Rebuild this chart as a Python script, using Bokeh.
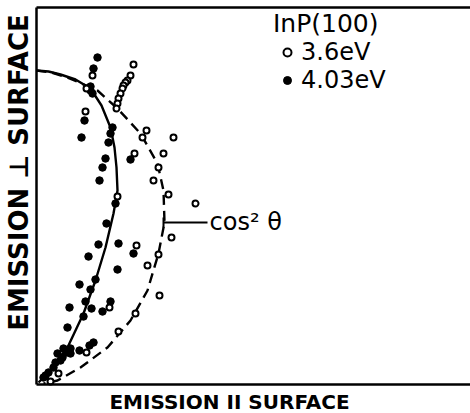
import math
from bokeh.plotting import figure
from bokeh.models import (Range1d, LinearAxis, FixedTicker, Label, Legend, LegendItem)
from bokeh.embed import file_html
from bokeh.resources import INLINE

# emission intensities (arbitrary units): x = parallel to surface, y = perpendicular
open_x = [97, 94, 91, 89, 87, 86, 84, 82, 81, 80, 56, 50, 49, 110, 106, 137, 98, 127, 122, 117,
          132, 81, 159, 135, 100, 122, 111, 123, 73, 99, 82, 50, 22, 14]
open_y = [320, 309, 304, 302, 299, 296, 291, 286, 281, 276, 309, 296, 273, 254, 247, 247, 231, 231, 217, 204,
          190, 188, 181, 147, 139, 130, 119, 89, 77, 71, 53, 32, 11, 3]

filled_x = [61, 57, 54, 52, 56, 54, 48, 45, 76, 74, 72, 69, 66, 63, 94, 79, 70, 62, 82, 52, 97, 81,
            43, 59, 54, 49, 74, 66, 33, 55, 47, 31, 57, 53, 43, 34, 27, 21, 26, 19, 17, 12, 7, 34, 30, 24, 9]
filled_y = [327, 316, 298, 296, 291, 294, 264, 247, 257, 251, 242, 226, 217, 204, 225, 181, 161, 140, 141, 128, 131, 115,
            100, 105, 95, 83, 83, 73, 77, 76, 68, 57, 42, 39, 34, 36, 36, 31, 27, 22, 17, 12, 7, 31, 32, 24, 9]

# fitted curve (solid)
solid_x = [0, 12, 24, 39, 54, 65, 74, 78, 80, 81, 77, 73, 69, 59, 47, 31, 14, 2]
solid_y = [314, 313, 310, 305, 296, 279, 257, 237, 217, 194, 171, 154, 137, 104, 71, 37, 14, 2]

# cos^2 theta curve (dashed)
dash_x = [0, 15, 31, 61, 81, 104, 121, 127, 128, 122, 111, 94, 71, 44, 21, 7]
dash_y = [314, 312, 307, 294, 276, 251, 221, 194, 162, 131, 94, 64, 37, 17, 4, 1]

X_MAX, Y_MAX = 434, 377
FONT = "DejaVu Sans"

p = figure(width=470, height=413, output_backend="svg", toolbar_location=None,
           x_range=Range1d(-36, X_MAX), y_range=Range1d(-29, 384),
           min_border=0, x_axis_type=None, y_axis_type=None)
p.outline_line_color = None
p.background_fill_color = "white"
p.border_fill_color = "white"

def frame_axis(loc, fixed, bounds):
    ax = LinearAxis(ticker=FixedTicker(ticks=[]), major_tick_out=0, major_tick_in=0,
                    minor_tick_out=0, minor_tick_in=0, major_label_text_font_size="0px",
                    major_label_standoff=0, axis_line_width=2.5, axis_line_color="black",
                    fixed_location=fixed, bounds=bounds)
    p.add_layout(ax, loc)

frame_axis("left", 0, (0, Y_MAX))
frame_axis("below", 0, (0, X_MAX))
frame_axis("above", Y_MAX, (0, X_MAX))

p.line(dash_x, dash_y, line_color="black", line_width=2.4, line_dash="10 6")
p.line(solid_x, solid_y, line_color="black", line_width=2.4)

r_filled = p.scatter(filled_x, filled_y, marker="circle", size=7.5, fill_color="black", line_color="black", line_width=1)
r_open = p.scatter(open_x, open_y, marker="circle", size=6, fill_color="white", line_color="black", line_width=2)

# cos^2 theta pointer
p.segment(x0=[127, 127], y0=[162, 157], x1=[171, 127], y1=[162, 167], line_color="black", line_width=2)
p.add_layout(Label(x=173, y=163, text="cos\u00b2 \u03b8", text_font=FONT, text_font_size="24px",
                   text_color="black", text_baseline="alphabetic"))

# axis titles
p.add_layout(Label(x=193, y=-17, text="EMISSION II SURFACE", text_font=FONT, text_font_size="20px",
                   text_font_style="bold", text_align="center", text_baseline="alphabetic", text_color="black"))
p.add_layout(Label(x=-18, y=212, text="EMISSION \u22a5 SURFACE", text_font=FONT, text_font_size="26px",
                   text_font_style="bold", text_align="center", text_baseline="alphabetic", angle=math.pi / 2,
                   text_color="black"))

legend = Legend(items=[LegendItem(label="3.6eV", renderers=[r_open]),
                       LegendItem(label="4.03eV", renderers=[r_filled])],
                title="InP(100)", title_text_font=FONT, title_text_font_size="25px",
                title_text_font_style="normal", title_text_color="black", title_standoff=0,
                label_text_font=FONT, label_text_font_size="24px", label_text_color="black",
                glyph_width=28, glyph_height=20, label_standoff=-3, spacing=0, padding=0, margin=0,
                border_line_color=None, background_fill_alpha=0, location=(273, 319))
p.add_layout(legend, "center")

open("out.html", "w").write(file_html(p, INLINE))
